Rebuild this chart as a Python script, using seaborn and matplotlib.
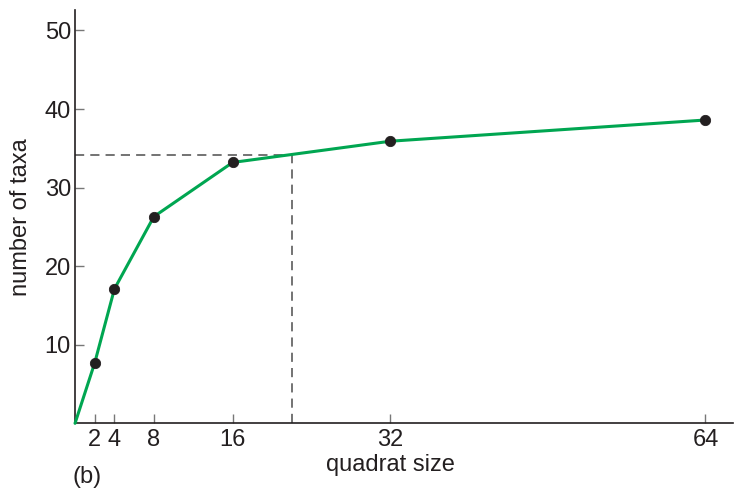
import matplotlib
matplotlib.use('Agg')
import matplotlib.pyplot as plt
import seaborn as sns
import pandas as pd

sns.set_style('ticks')
plt.rcParams['font.family'] = ['Liberation Sans', 'DejaVu Sans']

# --- data ---
quadrat_size = [0, 2, 4, 8, 16, 32, 64]
num_taxa = [0, 7.7, 17.1, 26.3, 33.2, 35.9, 38.6]
x_ticks = [2, 4, 8, 16, 32, 64]
y_ticks = [10, 20, 30, 40, 50]

# reading for the dashed guide lines
guide_x = 22
guide_y = 34.2

df = pd.DataFrame({'quadrat_size': quadrat_size, 'num_taxa': num_taxa})
pts = df[df['quadrat_size'] > 0]

text_col = '#231f20'
green = '#00a651'

fig = plt.figure(figsize=(7.37, 4.95), dpi=100)
ax = fig.add_axes([0.1018, 0.1448, 0.8928, 0.835])

# dashed guide lines
ax.hlines(guide_y, 0, guide_x, colors='#4d4d4d', linestyles=(0, (6, 4)), linewidth=1.1)
ax.vlines(guide_x, 0, guide_y, colors='#4d4d4d', linestyles=(0, (6, 4)), linewidth=1.1)

sns.lineplot(data=df, x='quadrat_size', y='num_taxa', color=green, linewidth=2.2,
             ax=ax, clip_on=False, zorder=3)
sns.scatterplot(data=pts, x='quadrat_size', y='num_taxa', color=text_col, s=55,
                edgecolor=text_col, ax=ax, zorder=4, clip_on=False)

ax.set_xlim(0, 66.8)
ax.set_ylim(0, 52.6)
ax.set_xticks(x_ticks)
ax.set_yticks(y_ticks)
ax.tick_params(direction='in', length=6.5, width=1, color='#777777',
               labelsize=17, labelcolor=text_col)
ax.tick_params(axis='x', pad=4)
ax.tick_params(axis='y', pad=3)

sns.despine(ax=ax)
for s in ['left', 'bottom']:
    ax.spines[s].set_color(text_col)
    ax.spines[s].set_linewidth(1.2)

ax.set_xlabel('quadrat size', fontsize=17, color=text_col, x=0.479, labelpad=2)
ax.set_ylabel('number of taxa', fontsize=17, color=text_col, labelpad=9)

fig.text(0.099, 0.037, '(b)', fontsize=17, color=text_col, va='center')

fig.savefig('out.png', dpi=100)
